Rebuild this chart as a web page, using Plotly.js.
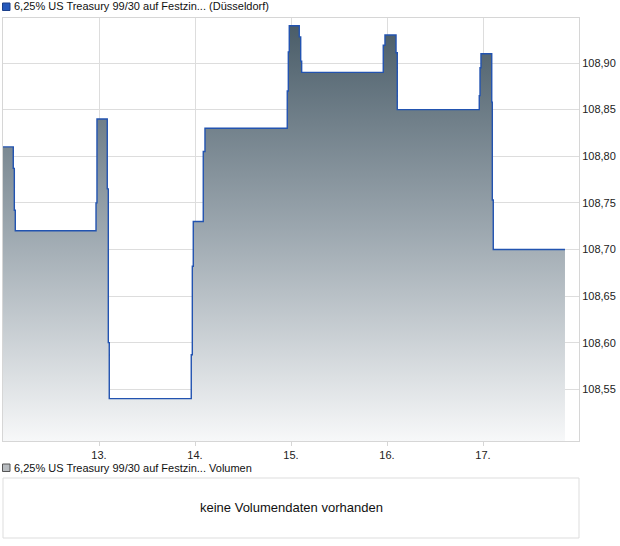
<!DOCTYPE html>
<html>
<head>
<meta charset="utf-8">
<script src="https://cdn.plot.ly/plotly-3.0.1.min.js"></script>
<style>
  html, body { margin: 0; padding: 0; background: #ffffff; }
  #chart { width: 620px; height: 546px; }
</style>
</head>
<body>
<div id="chart"></div>
<script>
// Time in fractional days of the month, price in percent
const days = [12.000, 12.107, 12.118, 12.128, 12.969, 12.979, 13.086, 13.097, 13.107,
              13.961, 13.972, 13.982, 14.086, 14.104, 14.961, 14.972, 14.982, 15.086,
              15.101, 15.111, 15.961, 15.979, 16.094, 16.107, 16.961, 16.969, 16.979,
              17.091, 17.097, 17.107, 17.854];
const prices = [108.81, 108.787, 108.742, 108.72, 108.75, 108.84, 108.765, 108.60, 108.54,
                108.587, 108.682, 108.73, 108.805, 108.83, 108.87, 108.912, 108.94, 108.928,
                108.902, 108.89, 108.919, 108.93, 108.911, 108.85, 108.865, 108.895, 108.91,
                108.858, 108.753, 108.70, 108.70];

const xTickVals = [13, 14, 15, 16, 17];
const xTickText = ['13.', '14.', '15.', '16.', '17.'];
const yTickVals = [108.55, 108.60, 108.65, 108.70, 108.75, 108.80, 108.85, 108.90];

const seriesName = '6,25% US Treasury 99/30 auf Festzin... (Düsseldorf)';
const volumeName = '6,25% US Treasury 99/30 auf Festzin... Volumen';
const noVolumeText = 'keine Volumendaten vorhanden';

const W = 620, H = 546;
const plotL = 3, plotR = 579, plotT = 18, plotB = 441;
const yMin = 108.4945, yMax = 108.9483;

const FONT = 'Liberation Sans, Arial, sans-serif';

const trace = {
  type: 'scatter',
  mode: 'lines',
  x: days,
  y: prices,
  line: { shape: 'hv', color: '#2253b0', width: 1.4 },
  fill: 'tozeroy',
  fillgradient: {
    type: 'vertical',
    start: yMin,
    stop: yMax,
    colorscale: [[0, '#f7f8f9'], [0.5, '#9ca7af'], [1, '#475a66']]
  },
  hoverinfo: 'skip',
  showlegend: false
};

const layout = {
  width: W,
  height: H,
  margin: { l: 0, r: 0, t: 0, b: 0 },
  paper_bgcolor: '#ffffff',
  plot_bgcolor: '#ffffff',
  separators: ',.',
  showlegend: false,
  font: { family: FONT, size: 11, color: '#222222' },
  xaxis: {
    domain: [plotL / W, plotR / W],
    range: [12, 18],
    tickmode: 'array',
    tickvals: xTickVals,
    ticktext: xTickText,
    showgrid: true,
    gridcolor: '#dddddd',
    gridwidth: 1,
    showline: true,
    linecolor: '#d6d6d6',
    linewidth: 1,
    mirror: true,
    ticks: 'outside',
    ticklen: 4,
    tickcolor: '#d6d6d6',
    tickfont: { family: FONT, size: 11, color: '#222222' },
    zeroline: false,
    fixedrange: true
  },
  yaxis: {
    domain: [(H - plotB) / H, (H - plotT) / H],
    range: [yMin, yMax],
    side: 'right',
    tickmode: 'array',
    tickvals: yTickVals,
    tickformat: '.2f',
    showgrid: true,
    gridcolor: '#dddddd',
    gridwidth: 1,
    showline: true,
    linecolor: '#d6d6d6',
    linewidth: 1,
    mirror: true,
    ticks: '',
    tickfont: { family: FONT, size: 11, color: '#222222' },
    zeroline: false,
    fixedrange: true
  },
  shapes: [
    // top legend marker
    { type: 'rect', xref: 'paper', yref: 'paper',
      x0: 2.5 / W, x1: 10 / W, y0: (H - 10.5) / H, y1: (H - 3) / H,
      fillcolor: '#2458bb', line: { color: '#1a3f8a', width: 1 } },
    // volume legend marker
    { type: 'rect', xref: 'paper', yref: 'paper',
      x0: 2.5 / W, x1: 10 / W, y0: (H - 471.5) / H, y1: (H - 464) / H,
      fillcolor: '#b8bcc0', line: { color: '#555555', width: 1 } },
    // volume box
    { type: 'rect', xref: 'paper', yref: 'paper',
      x0: 3 / W, x1: 579 / W, y0: (H - 538) / H, y1: (H - 478) / H,
      fillcolor: 'rgba(0,0,0,0)', line: { color: '#dddddd', width: 1 } }
  ],
  annotations: [
    { xref: 'paper', yref: 'paper', x: 12 / W, y: (H - 6.5) / H,
      xanchor: 'left', yanchor: 'middle', showarrow: false,
      text: seriesName, font: { family: FONT, size: 11, color: '#111111' } },
    { xref: 'paper', yref: 'paper', x: 12 / W, y: (H - 467.5) / H,
      xanchor: 'left', yanchor: 'middle', showarrow: false,
      text: volumeName, font: { family: FONT, size: 11, color: '#111111' } },
    { xref: 'paper', yref: 'paper', x: 291 / W, y: (H - 507) / H,
      xanchor: 'center', yanchor: 'middle', showarrow: false,
      text: noVolumeText, font: { family: FONT, size: 13, color: '#111111' } }
  ]
};

Plotly.newPlot('chart', [trace], layout, { staticPlot: true, displayModeBar: false });
</script>
</body>
</html>
